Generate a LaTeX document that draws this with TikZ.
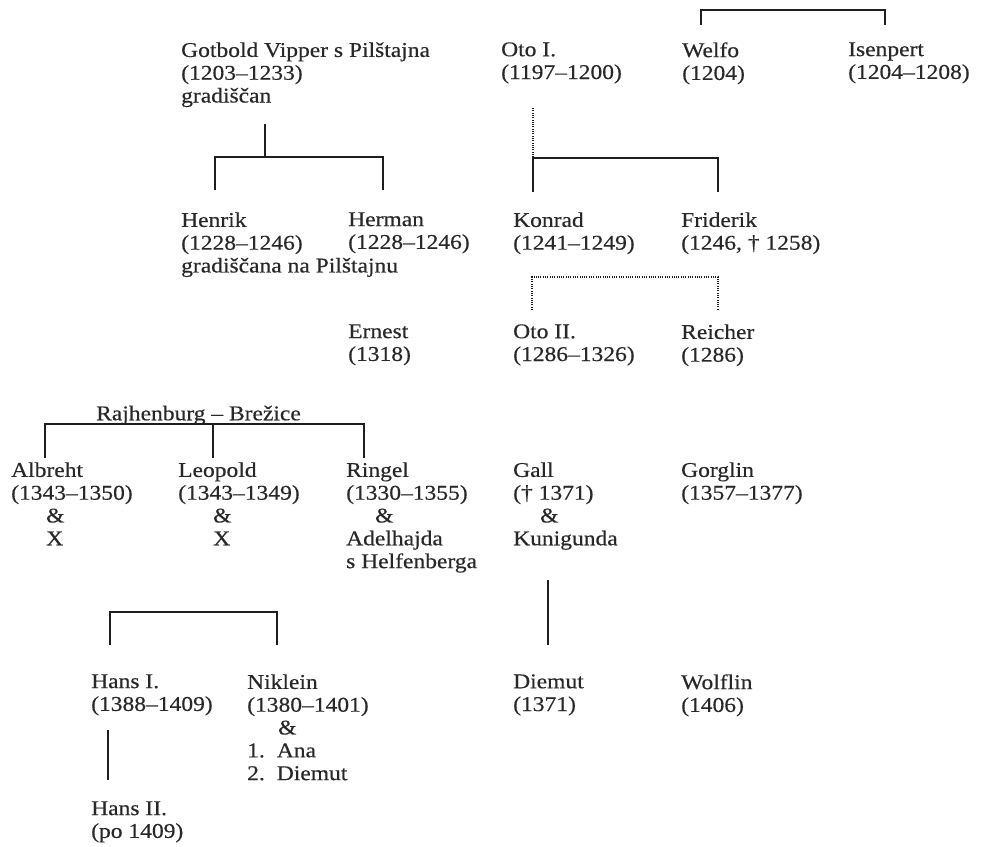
\documentclass[tikz,border=0pt]{standalone}
\usepackage{fontspec}
\setmainfont{Liberation Serif}[FakeStretch=1.12, FakeBold=0.4]
\begin{document}
\begin{tikzpicture}[x=1pt,y=-1pt,
    person/.style={anchor=north west, yshift=15.89pt, inner sep=0pt, align=left,
      text={rgb,255:red,40; green,40; blue,40},
      font=\fontsize{21}{22.8}\selectfont, execute at begin node=\strut},
    kin/.style={line width=1.4pt, color={rgb,255:red,30; green,30; blue,30}},
    kindot/.style={kin, line width=1.2pt, dash pattern=on 1pt off 1.3pt}]
    \useasboundingbox (0,0) rectangle (981,846);
    % first generations
    \node [person] (gotbold) at (181,58) {Gotbold Vipper s Pilštajna\\(1203–1233)\\gradiščan};
    \node [person] (oto1) at (501,58) {Oto I.\\(1197–1200)};
    \node [person] (welfo) at (682,58) {Welfo\\(1204)};
    \node [person] (isenpert) at (848,58) {Isenpert\\(1204–1208)};
    \node [person] (henrik) at (181,228) {Henrik\\(1228–1246)\\gradiščana na Pilštajnu};
    \node [person] (herman) at (348,228) {Herman\\(1228–1246)};
    \node [person] (konrad) at (513,228) {Konrad\\(1241–1249)};
    \node [person] (friderik) at (681,228) {Friderik\\(1246, † 1258)};
    \node [person] (ernest) at (348,340) {Ernest\\(1318)};
    \node [person] (oto2) at (513,340) {Oto II.\\(1286–1326)};
    \node [person] (reicher) at (681,340) {Reicher\\(1286)};
    % Rajhenburg -- Brezice
    \node [person] (rajhenburg) at (96,420) {Rajhenburg – Brežice};
    \node [person] (albreht) at (11,478) {Albreht\\(1343–1350)\\\hspace*{35pt}\&\\\hspace*{35pt}X};
    \node [person] (leopold) at (178,478) {Leopold\\(1343–1349)\\\hspace*{35pt}\&\\\hspace*{35pt}X};
    \node [person] (ringel) at (346,478) {Ringel\\(1330–1355)\\\hspace*{29pt}\&\\Adelhajda\\s Helfenberga};
    \node [person] (gall) at (513,478) {Gall\\(† 1371)\\\hspace*{27pt}\&\\Kunigunda};
    \node [person] (gorglin) at (681,478) {Gorglin\\(1357–1377)};
    \node [person] (hans1) at (91,690) {Hans I.\\(1388–1409)};
    \node [person] (niklein) at (247,690) {Niklein\\(1380–1401)\\\hspace*{31pt}\&\\1.\hspace{12pt}Ana\\2.\hspace{12pt}Diemut};
    \node [person] (diemut) at (513,690) {Diemut\\(1371)};
    \node [person] (wolflin) at (681,690) {Wolflin\\(1406)};
    \node [person] (hans2) at (91,817) {Hans II.\\(po 1409)};
    % bracket ends
    \coordinate (welfo-top) at (701,25);
    \coordinate (isenpert-top) at (885,25);
    \coordinate (gotbold-stem) at (265,124);
    \coordinate (henrik-top) at (215,190);
    \coordinate (herman-top) at (383,190);
    \coordinate (oto1-stem) at (533,108);
    \coordinate (konrad-top) at (533,192);
    \coordinate (friderik-top) at (718,192);
    \coordinate (oto2-top) at (532,310);
    \coordinate (reicher-top) at (718,310);
    \coordinate (albreht-top) at (45,458);
    \coordinate (leopold-top) at (213,458);
    \coordinate (ringel-top) at (364,458);
    \coordinate (hans1-top) at (110,645);
    \coordinate (niklein-top) at (277,645);
    \coordinate (gall-stem) at (548,580);
    \coordinate (diemut-top) at (548,645);
    \coordinate (hans1-stem) at (108,730);
    \coordinate (hans2-top) at (108,780);
    % connectors
    \draw [kin] (welfo-top) -- ++(0,-15) -| (isenpert-top);
    \draw [kin] (gotbold-stem) -- ++(0,33);
    \draw [kin] (henrik-top) -- ++(0,-33) -| (herman-top);
    \draw [kindot] (oto1-stem) -- ++(0,49);
    \draw [kin] (konrad-top) -- ++(0,-34) -| (friderik-top);
    \draw [kindot] (oto2-top) -- ++(0,-33) -| (reicher-top);
    \draw [kin] (albreht-top) -- ++(0,-34) -| (ringel-top);
    \draw [kin] (leopold-top) -- ++(0,-34);
    \draw [kin] (hans1-top) -- ++(0,-33) -| (niklein-top);
    \draw [kin] (gall-stem) -- (diemut-top);
    \draw [kin] (hans1-stem) -- (hans2-top);
\end{tikzpicture}
\end{document}
